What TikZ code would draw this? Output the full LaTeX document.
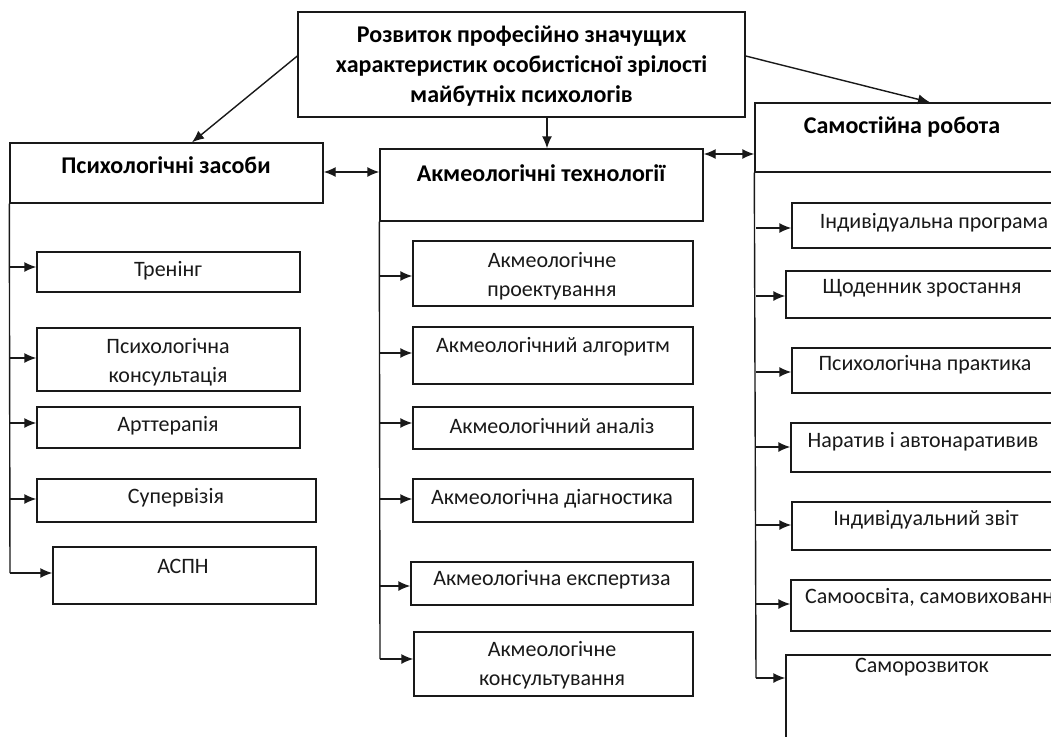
\documentclass[tikz,border=0pt]{standalone}
\usepackage{fontspec}
\setmainfont{Carlito}
\usetikzlibrary{arrows.meta,fit}
\begin{document}
\begin{tikzpicture}[x=1pt,y=-1pt,
  bx/.style={draw=black!90, line width=1.4pt, inner sep=0pt, rectangle},
  txt/.style={font=\fontsize{22}{29}\selectfont, align=center, inner sep=0pt, text=black!90},
  hd/.style={font=\bfseries\fontsize{24}{30}\selectfont, align=center, inner sep=0pt},
  ln/.style={line width=1.4pt, draw=black!90},
  arr/.style={ln, -{Latex[length=12pt,width=10pt]}},
  darr/.style={ln, {Latex[length=12pt,width=10pt]}-{Latex[length=12pt,width=10pt]}}]
\useasboundingbox (0,0) rectangle (1051,736);
\fill[white] (0,0) rectangle (1051,736);
\clip (0,0) rectangle (1051,736);

% main boxes
\node[bx, fit={(298,12)(745,117)}] (tb) {};
\node[hd] (tbt) at (521.5,66) {Розвиток професійно значущих\\характеристик особистісної зрілості\\майбутніх психологів};
\node[bx, fit={(10,143)(323,203)}] (pz) {};
\node[hd] (pzt) at (166,165) {Психологічні засоби};
\node[bx, fit={(380,149)(703,221)}] (ak) {};
\node[hd] (akt) at (541,173) {Акмеологічні технології};
\node[bx, fit={(755,103)(1070,172)}] (sr) {};
\node[hd] (srt) at (902,127) {Самостійна робота};

% helper coordinates
\coordinate (xa) at (192,0);
\coordinate (xb) at (930,0);
\coordinate (xc) at (547,0);

% top connectors
\draw[arr] ([yshift=8.5pt]tb.west) -- (pz.north -| xa);
\draw[arr] ([yshift=8.5pt]tb.east) -- (sr.north -| xb);
\draw[arr] (tb.south -| xc) -- (ak.north -| xc);
\draw[darr] (pz.east |- 0,172) -- (ak.west |- 0,172);
\draw[darr] (ak.east |- 0,154) -- (sr.west |- 0,154);

% left column
\node[bx, fit={(37,252)(300,292)}] (l1) {};
\node[txt] at (168,271) {Тренінг};
\node[bx, fit={(37,328)(300,391)}] (l2) {};
\node[txt] at (168,362) {Психологічна\\консультація};
\node[bx, fit={(37,407)(300,448)}] (l3) {};
\node[txt] at (168,426) {Арттерапія};
\node[bx, fit={(37,479)(316,522)}] (l4) {};
\node[txt] at (176,498) {Супервізія};
\node[bx, fit={(53,547)(316,604)}] (l5) {};
\node[txt] at (183,566) {АСПН};
\coordinate (lend) at (10,573);
\draw[ln] (pz.south west) -- (lend);
\draw[arr] (10,267) -- (l1.west |- 0,267);
\draw[arr] (10,358) -- (l2.west |- 0,358);
\draw[arr] (10,423) -- (l3.west |- 0,423);
\draw[arr] (10,499) -- (l4.west |- 0,499);
\draw[arr] (lend) -- (l5.west |- lend);

% middle column
\node[bx, fit={(413,241)(693,306)}] (m1) {};
\node[txt] at (552,276) {Акмеологічне\\проектування};
\node[bx, fit={(413,327)(693,384)}] (m2) {};
\node[txt] at (553,347) {Акмеологічний алгоритм};
\node[bx, fit={(413,407)(693,449)}] (m3) {};
\node[txt] at (552,426) {Акмеологічний аналіз};
\node[bx, fit={(413,479)(693,522)}] (m4) {};
\node[txt] at (552,499) {Акмеологічна діагностика};
\node[bx, fit={(411,562)(693,605)}] (m5) {};
\node[txt] at (552,580) {Акмеологічна експертиза};
\node[bx, fit={(414,632)(693,696)}] (m6) {};
\node[txt] at (552,665) {Акмеологічне\\консультування};
\coordinate (mend) at (380,659);
\draw[ln] (ak.south west) -- (mend);
\draw[arr] (380,276) -- (m1.west |- 0,276);
\draw[arr] (380,353) -- (m2.west |- 0,353);
\draw[arr] (380,423) -- (m3.west |- 0,423);
\draw[arr] (380,499) -- (m4.west |- 0,499);
\draw[arr] (380,586) -- (m5.west |- 0,586);
\draw[arr] (mend) -- (m6.west |- mend);

% right column
\node[bx, fit={(792,203)(1070,248)}] (r1) {};
\node[txt] at (934,223) {Індивідуальна програма};
\node[bx, fit={(786,271)(1070,318)}] (r2) {};
\node[txt] at (922,288) {Щоденник зростання};
\node[bx, fit={(792,348)(1070,393)}] (r3) {};
\node[txt] at (925,365) {Психологічна практика};
\node[bx, fit={(791,423)(1070,472)}] (r4) {};
\node[txt] at (923,442) {Наратив і автонаративив};
\node[bx, fit={(792,502)(1070,550)}] (r5) {};
\node[txt] at (926,520) {Індивідуальний звіт};
\node[bx, fit={(791,580)(1070,631)}] (r6) {};
\node[txt, anchor=west] at (805,597) {Самоосвіта, самовиховання};
\node[bx, fit={(786,655)(1070,760)}] (r7) {};
\node[txt] at (922,667) {Саморозвиток};
\coordinate (rend) at (756,678);
\draw[ln] (sr.south west) -- (rend);
\draw[arr] (756,228) -- (r1.west |- 0,228);
\draw[arr] (756,296) -- (r2.west |- 0,296);
\draw[arr] (756,372) -- (r3.west |- 0,372);
\draw[arr] (756,447) -- (r4.west |- 0,447);
\draw[arr] (756,525) -- (r5.west |- 0,525);
\draw[arr] (756,604) -- (r6.west |- 0,604);
\draw[arr] (rend) -- (r7.west |- rend);
\end{tikzpicture}
\end{document}
